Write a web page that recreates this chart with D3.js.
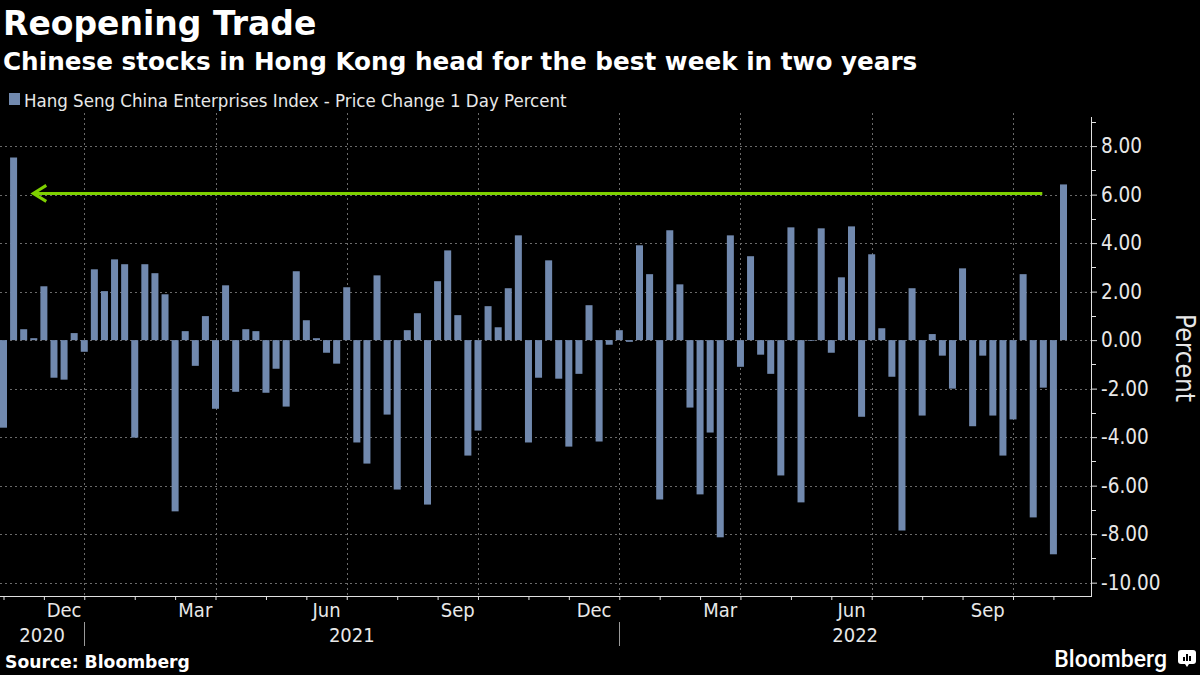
<!DOCTYPE html>
<html>
<head>
<meta charset="utf-8">
<script src="https://cdn.jsdelivr.net/npm/d3@7"></script>
<style>
  html, body { margin: 0; padding: 0; background: #000; }
  svg { display: block; }
</style>
</head>
<body>
<svg id="chart" width="1200" height="675"></svg>
<script>
// weekly HSCEI % change, one bar per week (Fridays)
const firstWeek = new Date(2020, 10, 6)
const lastWeek = new Date(2022, 10, 11)
const values = [
  -3.61, 7.53, 0.45, 0.08, 2.22, -1.55, -1.63, 0.29, -0.48, 2.92,
  2.02, 3.33, 3.13, -4.02, 3.13, 2.76, 1.89, -7.06, 0.37, -1.06,
  0.99, -2.83, 2.26, -2.13, 0.45, 0.37, -2.17, -1.18, -2.74, 2.84,
  0.82, 0.08, -0.52, -0.97, 2.18, -4.22, -5.09, 2.67, -3.07, -6.16,
  0.41, 1.11, -6.78, 2.43, 3.70, 1.03, -4.76, -3.73, 1.40, 0.53,
  2.14, 4.32, -4.22, -1.55, 3.29, -1.59, -4.39, -1.39, 1.44, -4.18,
  -0.19, 0.41, -0.07, 3.91, 2.72, -6.57, 4.53, 2.30, -2.78, -6.36,
  -3.81, -8.13, 4.32, -1.10, 3.46, -0.60, -1.39, -5.58, 4.65, -6.69,
  -0.03, 4.61, -0.52, 2.59, 4.69, -3.16, 3.54, 0.49, -1.51, -7.85,
  2.14, -3.11, 0.25, -0.64, -2.00, 2.96, -3.55, -0.64, -3.11, -4.76,
  -3.27, 2.72, -7.31, -1.96, -8.83, 6.42
]
const yTicks = [-10, -8, -6, -4, -2, 0, 2, 4, 6, 8]
const yMinorTicks = [-9, -7, -5, -3, -1, 1, 3, 5, 7, 9]
const labelMonths = ["Dec", "Mar", "Jun", "Sep"]
const gridMonths = ["Jan", "Apr", "Jul", "Oct"]
// green arrow annotation, in bar index / percent units
const arrowFrom = { i: 102.9, v: 6.05 }
const arrowTo = { i: 2.95, v: 6.05 }

const weeks = d3.timeFriday.range(firstWeek, d3.timeDay.offset(lastWeek, 1))
const data = weeks.map((d, i) => ({ date: d, i: i, v: values[i] }))

const W = 1200, H = 675
const margin = { top: 117, right: 109, bottom: 79, left: 0 }
const plotRight = W - margin.right
const plotBottom = H - margin.bottom
const barW = 7

const svg = d3.select('#chart')
const cond = "'DejaVu Sans Condensed', 'DejaVu Sans', sans-serif"

let x = d3.scaleLinear()
  .domain([0, weeks.length - 1])
  .range([3.5, 1063.5])

let y = d3.scaleLinear()
  .domain([-10.55, 9.2])
  .range([plotBottom, margin.top])

let fmtMon = d3.timeFormat('%b')

// month starts = first bar of each month
let monthStarts = data.filter((d, i) => i === 0 || d.date.getMonth() !== data[i - 1].date.getMonth())
let yearStarts = monthStarts.filter(d => d.date.getMonth() === 0)

// gridlines
svg.append('g')
  .selectAll('line')
  .data(yTicks)
  .join('line')
  .attr('x1', 0).attr('x2', plotRight)
  .attr('y1', d => Math.round(y(d)) + 0.5).attr('y2', d => Math.round(y(d)) + 0.5)
  .attr('stroke', '#6a6a6a').attr('stroke-dasharray', '2,3').attr('stroke-width', 1)

svg.append('g')
  .selectAll('line')
  .data(monthStarts.filter(d => gridMonths.includes(fmtMon(d.date))))
  .join('line')
  .attr('x1', d => Math.round(x(d.i)) + 0.5).attr('x2', d => Math.round(x(d.i)) + 0.5)
  .attr('y1', margin.top - 4).attr('y2', plotBottom)
  .attr('stroke', '#6a6a6a').attr('stroke-dasharray', '2,3').attr('stroke-width', 1)

// bars
svg.append('g')
  .selectAll('rect')
  .data(data)
  .join('rect')
  .attr('fill', '#7189ae')
  .attr('x', d => x(d.i) - barW / 2)
  .attr('width', barW)
  .attr('y', d => y(Math.max(0, d.v)))
  .attr('height', d => Math.abs(y(d.v) - y(0)))

// arrow
let ax0 = x(arrowFrom.i), ax1 = x(arrowTo.i), ay = y(arrowTo.v)
let arrow = svg.append('g')
  .attr('stroke', '#7ed000').attr('stroke-width', 3).attr('fill', 'none')
arrow.append('line')
  .attr('x1', ax0).attr('x2', ax1 + 1).attr('y1', ay).attr('y2', ay)
arrow.append('path')
  .attr('d', `M${ax1 + 13},${ay - 8} L${ax1},${ay} L${ax1 + 13},${ay + 8}`)

// x axis
let xAxis = g => g
  .attr('transform', `translate(0,${plotBottom})`)
  .call(d3.axisBottom(x).tickValues(monthStarts.map(d => d.i)).tickFormat('').tickSize(4).tickSizeOuter(0))
  .call(g => g.select('.domain').attr('d', `M0,0.5H${plotRight}`))
svg.append('g').call(xAxis)
  .call(g => g.selectAll('line, path').attr('stroke', '#e0e0e0'))

// month labels, centered in the month
let labels = []
monthStarts.forEach((d, k) => {
  let m = fmtMon(d.date)
  if (!labelMonths.includes(m)) return
  let next = monthStarts[k + 1]
  let xe = next ? x(next.i) : plotRight
  labels.push({ text: m, x: (x(d.i) + xe) / 2 })
})
svg.append('g')
  .selectAll('text')
  .data(labels)
  .join('text')
  .attr('x', d => d.x).attr('y', 617)
  .attr('text-anchor', 'middle')
  .attr('fill', '#e8e8e8')
  .attr('font-family', cond).attr('font-size', 20)
  .text(d => d.text)

// year labels and separators
let yb = [0].concat(yearStarts.map(d => x(d.i))).concat([plotRight])
let years = d3.range(yb.length - 1).map(k => ({ text: String(firstWeek.getFullYear() + k), x: (yb[k] + yb[k + 1]) / 2 }))
svg.append('g')
  .selectAll('line')
  .data(yearStarts)
  .join('line')
  .attr('x1', d => Math.round(x(d.i)) + 0.5).attr('x2', d => Math.round(x(d.i)) + 0.5)
  .attr('y1', 622).attr('y2', 646)
  .attr('stroke', '#9a9a9a')
svg.append('g')
  .selectAll('text')
  .data(years)
  .join('text')
  .attr('x', d => d.x).attr('y', 642)
  .attr('text-anchor', 'middle')
  .attr('fill', '#e8e8e8')
  .attr('font-family', cond).attr('font-size', 20)
  .text(d => d.text)

// y axis (right)
let yAxis = g => g
  .attr('transform', `translate(${plotRight},0)`)
  .call(d3.axisRight(y).tickValues(yTicks).tickFormat(d => d.toFixed(2)).tickSize(6).tickPadding(4).tickSizeOuter(0))
  .call(g => g.select('.domain').attr('d', `M0.5,${margin.top}V${plotBottom + 1}`))
svg.append('g').call(yAxis)
  .call(g => g.selectAll('line, path').attr('stroke', '#e0e0e0'))
  .call(g => g.selectAll('text').attr('fill', '#e8e8e8').attr('font-family', cond).attr('font-size', 20.5))
svg.append('g')
  .selectAll('line')
  .data(yMinorTicks)
  .join('line')
  .attr('x1', plotRight).attr('x2', plotRight + 5)
  .attr('y1', d => Math.round(y(d)) + 0.5).attr('y2', d => Math.round(y(d)) + 0.5)
  .attr('stroke', '#e0e0e0')

svg.append('text')
  .attr('transform', `translate(1176,358) rotate(90)`)
  .attr('text-anchor', 'middle')
  .attr('fill', '#e8e8e8')
  .attr('font-family', cond).attr('font-size', 26)
  .text('Percent')

// titles
svg.append('text')
  .attr('x', 3).attr('y', 35)
  .attr('fill', '#fff')
  .attr('font-family', 'DejaVu Sans, sans-serif').attr('font-weight', 'bold').attr('font-size', 33)
  .text('Reopening Trade')
svg.append('text')
  .attr('x', 3).attr('y', 70)
  .attr('fill', '#fff')
  .attr('font-family', 'DejaVu Sans, sans-serif').attr('font-weight', 'bold').attr('font-size', 24.7)
  .text('Chinese stocks in Hong Kong head for the best week in two years')

// legend
svg.append('rect')
  .attr('x', 9).attr('y', 93).attr('width', 11).attr('height', 12)
  .attr('fill', '#7189ae')
svg.append('text')
  .attr('x', 24).attr('y', 107)
  .attr('fill', '#e8e8e8')
  .attr('font-family', cond).attr('font-size', 18.5)
  .text('Hang Seng China Enterprises Index - Price Change 1 Day Percent')

// footer
svg.append('text')
  .attr('x', 5).attr('y', 668)
  .attr('fill', '#fff')
  .attr('font-family', 'DejaVu Sans, sans-serif').attr('font-weight', 'bold').attr('font-size', 17.2)
  .text('Source: Bloomberg')
svg.append('text')
  .attr('x', 1167).attr('y', 667)
  .attr('text-anchor', 'end')
  .attr('fill', '#fff')
  .attr('font-family', 'Roboto, sans-serif').attr('font-weight', 500).attr('font-size', 23)
  .text('Bloomberg')
let logo = svg.append('g').attr('transform', 'translate(1178,650)')
logo.append('rect').attr('width', 18).attr('height', 14).attr('rx', 3).attr('fill', '#fff')
logo.append('path').attr('d', 'M7,14 L9,17 L11,14 Z').attr('fill', '#fff')
logo.selectAll('.b')
  .data([[5, 7], [8, 4], [11, 6]])
  .join('rect')
  .attr('x', d => d[0]).attr('y', d => d[1]).attr('width', 2).attr('height', d => 11 - d[1])
  .attr('fill', '#000')
</script>
</body>
</html>
